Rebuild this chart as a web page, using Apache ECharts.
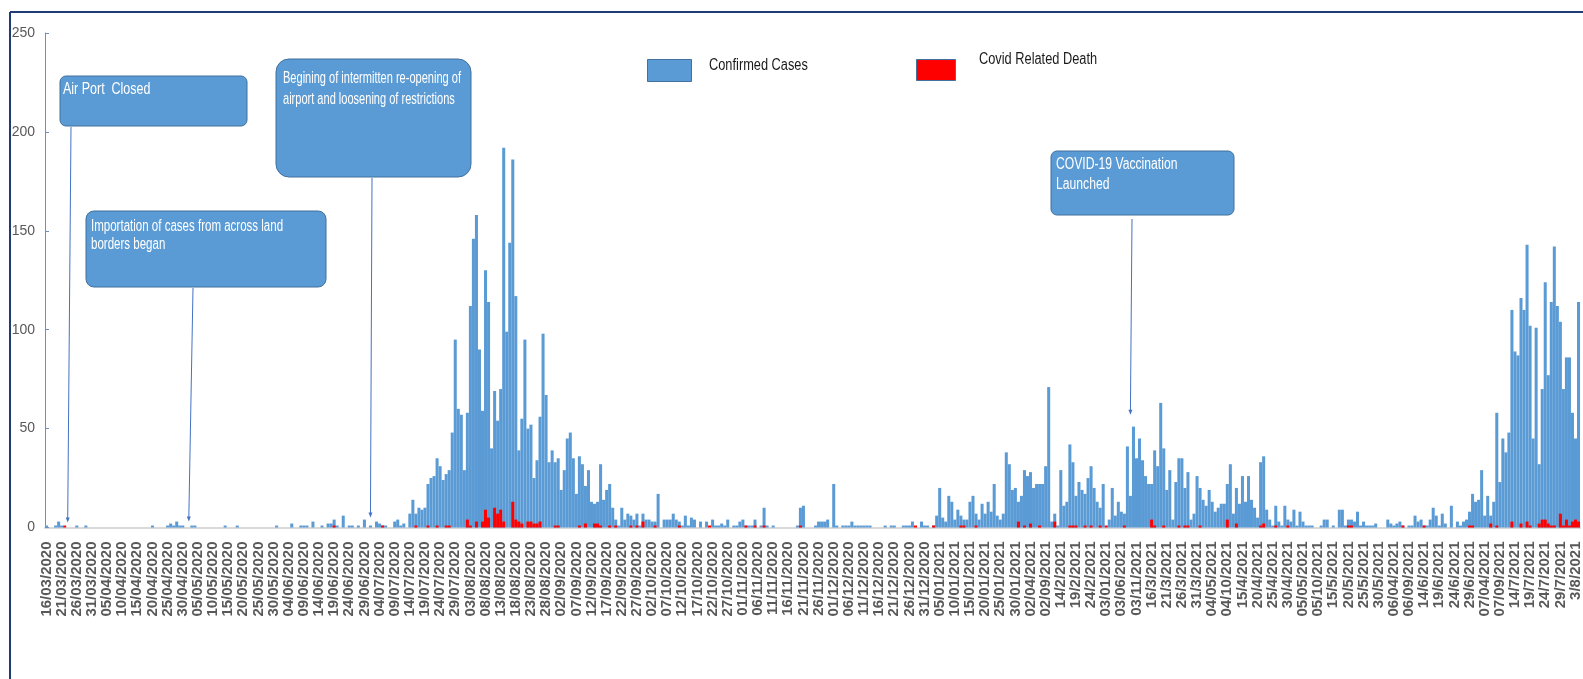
<!DOCTYPE html>
<html><head><meta charset="utf-8">
<script src="https://cdn.jsdelivr.net/npm/echarts@6/dist/echarts.min.js"></script>
<style>html,body{margin:0;padding:0;background:#fff;overflow:hidden}#c{width:1583px;height:679px}</style>
</head><body><div id="c"></div>
<script>
// x-axis tick labels (one every 5 days), as printed in the source
const tickLabels = ["16/03/2020","21/03/2020","26/03/2020","31/03/2020","05/04/2020","10/04/2020","15/04/2020","20/04/2020","25/04/2020","30/04/2020",
"05/05/2020","10/05/2020","15/05/2020","20/05/2020","25/05/2020","30/05/2020","04/06/2020","09/06/2020","14/06/2020","19/06/2020",
"24/06/2020","29/06/2020","04/07/2020","09/07/2020","14/07/2020","19/07/2020","24/07/2020","29/07/2020","03/08/2020","08/08/2020",
"13/08/2020","18/08/2020","23/08/2020","28/08/2020","02/09/2020","07/09/2020","12/09/2020","17/09/2020","22/09/2020","27/09/2020",
"02/10/2020","07/10/2020","12/10/2020","17/10/2020","22/10/2020","27/10/2020","01/11/2020","06/11/2020","11/11/2020","16/11/2020",
"21/11/2020","26/11/2020","01/12/2020","06/12/2020","11/12/2020","16/12/2020","21/12/2020","26/12/2020","31/12/2020","05/01/2021",
"10/01/2021","15/01/2021","20/01/2021","25/01/2021","30/01/2021","02/04/2021","02/09/2021","14/2/2021","19/2/2021","24/2/2021",
"03/01/2021","03/06/2021","03/11/2021","16/3/2021","21/3/2021","26/3/2021","31/3/2021","04/05/2021","04/10/2021","15/4/2021",
"20/4/2021","25/4/2021","30/4/2021","05/05/2021","05/10/2021","15/5/2021","20/5/2021","25/5/2021","30/5/2021","06/04/2021",
"06/09/2021","14/6/2021","19/6/2021","24/6/2021","29/6/2021","07/04/2021","07/09/2021","14/7/2021","19/7/2021","24/7/2021",
"29/7/2021","3/8/2021"];

// daily confirmed cases, from 16/03/2020 (10 values per row)
const confirmedCases = [
1,0,0,1,3,1,0,0,0,0,
1,0,0,1,0,0,0,0,0,0,
0,0,0,0,0,0,0,0,0,0,
0,0,0,0,0,1,0,0,0,0,
1,2,1,3,1,1,0,0,1,1,
0,0,0,0,0,0,0,0,0,1,
0,0,0,1,0,0,0,0,0,0,
0,0,0,0,0,0,1,0,0,0,
0,2,0,0,1,1,1,0,3,0,
0,1,0,2,2,4,1,0,6,0,
1,1,0,1,0,4,0,1,0,3,
2,1,1,0,0,3,4,1,2,0,
7,14,7,10,9,10,22,25,26,35,
31,24,27,29,48,95,60,57,29,58,
112,146,158,90,59,130,114,40,69,54,
70,192,99,144,186,117,39,55,95,50,
52,25,34,56,98,67,33,39,33,35,
19,29,45,48,35,17,36,32,21,29,
13,12,13,32,14,19,22,10,4,1,
10,4,7,6,4,7,1,7,4,4,
3,3,17,0,4,4,4,7,4,3,
1,6,1,5,4,0,3,0,3,0,
4,1,1,2,1,4,0,1,1,3,
4,1,1,1,4,0,1,10,1,0,
1,0,0,0,0,0,0,0,1,10,
11,0,0,0,1,3,3,3,4,0,
22,1,0,1,1,1,3,1,1,1,
1,1,1,0,0,0,0,1,0,1,
1,0,0,1,1,1,3,0,0,3,
1,1,0,1,6,20,5,3,16,13,
4,9,6,4,4,13,16,7,4,12,
7,13,8,22,6,4,7,38,32,19,
20,13,16,29,26,28,20,22,22,22,
31,71,3,7,1,29,11,13,42,33,
16,23,19,17,25,31,20,13,10,22,
0,4,20,6,13,8,7,41,16,51,
35,45,34,26,22,22,39,31,63,40,
19,29,4,23,35,35,20,28,4,7,
26,20,14,11,19,13,8,10,12,12,
22,32,7,20,12,26,13,26,14,10,
5,33,36,9,4,1,11,3,1,11,
4,3,9,1,8,3,1,1,1,0,
0,1,4,4,0,1,0,9,9,1,
4,4,3,8,1,3,1,1,1,2,
0,0,0,4,2,1,2,3,1,0,
1,1,6,3,4,1,1,4,10,6,
1,7,2,0,11,0,3,1,3,4,
8,17,13,14,29,6,16,6,13,58,
23,45,38,48,110,89,87,116,110,143,
102,45,101,32,70,124,77,114,142,112,
104,70,86,86,58,45,114];

// daily covid related deaths, same days
const covidDeaths = [
0,0,0,0,0,0,1,0,0,0,
0,0,0,0,0,0,0,0,0,0,
0,0,0,0,0,0,0,0,0,0,
0,0,0,0,0,0,0,0,0,0,
0,0,0,0,0,0,0,0,0,0,
0,0,0,0,0,0,0,0,0,0,
0,0,0,0,0,0,0,0,0,0,
0,0,0,0,0,0,0,0,0,0,
0,0,0,0,0,0,0,0,0,0,
0,0,0,0,0,1,0,0,0,0,
0,0,0,0,0,0,0,0,0,0,
0,1,0,0,0,0,0,0,0,0,
0,0,1,0,0,0,1,0,0,1,
0,0,1,1,0,0,0,0,0,4,
1,0,3,0,3,9,5,0,10,7,
9,3,0,0,13,4,3,2,0,3,
3,2,2,3,0,0,0,0,1,1,
0,0,0,0,0,0,1,0,2,0,
0,2,2,1,0,0,1,0,1,0,
0,0,0,1,0,1,0,3,0,0,
0,1,0,0,0,0,0,0,0,1,
0,0,0,0,0,0,0,0,0,1,
0,0,0,0,0,0,0,0,0,0,
0,1,0,0,1,0,0,1,0,0,
0,0,0,0,0,0,0,0,0,1,
0,0,0,0,0,0,0,0,0,0,
0,0,0,0,0,0,0,0,0,0,
0,0,0,0,0,0,0,0,0,0,
0,0,0,0,0,0,0,1,0,0,
0,0,0,1,0,0,0,0,0,0,
0,0,1,1,0,0,0,1,0,0,
0,0,0,0,0,0,0,0,0,0,
0,3,0,1,0,2,0,0,1,0,
0,0,0,3,0,0,0,0,1,1,
1,0,0,1,0,1,0,0,1,0,
1,0,0,0,0,0,1,0,0,0,
0,0,0,0,0,4,1,0,0,1,
0,0,0,0,1,0,1,1,0,0,
0,1,0,0,0,0,0,0,0,0,
4,0,0,2,0,0,0,0,0,0,
0,1,2,0,0,0,1,0,0,0,
1,0,0,0,0,0,0,0,0,0,
0,0,0,0,0,0,0,0,0,0,
1,1,0,0,0,0,0,0,0,0,
0,0,0,0,0,0,0,0,1,0,
0,0,0,0,0,1,0,0,0,0,
0,0,0,0,0,0,0,0,0,0,
1,1,0,0,0,0,0,2,0,1,
0,0,0,0,3,0,0,2,0,3,
1,0,0,2,4,4,2,1,1,0,
7,1,4,1,3,4,3];

const seriesNames = ['Confirmed Cases', 'Covid Related Death'];

// one category per day
const categories = confirmedCases.map(function (_, i) {
  const d = new Date(2020, 2, 16 + i);
  return d.getDate() + '/' + (d.getMonth() + 1) + '/' + d.getFullYear();
});

// callouts: text lines, day index + value the pointer ends on
const calloutTexts = [
  ['Air Port  Closed'],
  ['Importation of cases from across land', 'borders began'],
  ['Begining of intermitten re-opening of', 'airport and loosening of restrictions'],
  ['COVID-19 Vaccination', 'Launched']
];
const calloutDays = [7, 47, 107, 358];
const calloutValues = [2.5, 3, 5, 57];

const SANS = "'Liberation Sans',Arial,sans-serif";
const chart = echarts.init(document.getElementById('c'), null, {renderer: 'canvas'});

chart.setOption({
  animation: false,
  backgroundColor: '#fff',
  grid: {left: 45, right: -2, top: 33, bottom: 151.5, containLabel: false},
  legend: [
    {data: [seriesNames[0]], left: 642, top: 54, icon: 'rect', itemWidth: 44, itemHeight: 22,
     selectedMode: false, itemStyle: {borderColor: '#41719C', borderWidth: 1},
     formatter: function () { return ''; }, textStyle: {fontSize: 1}},
    {data: [seriesNames[1]], left: 911, top: 54, icon: 'rect', itemWidth: 39, itemHeight: 21,
     selectedMode: false, itemStyle: {borderColor: '#41719C', borderWidth: 1},
     formatter: function () { return ''; }, textStyle: {fontSize: 1}}
  ],
  xAxis: {
    type: 'category', data: categories, boundaryGap: true,
    axisLine: {lineStyle: {color: '#D9D9D9', width: 2}},
    axisTick: {show: false},
    axisLabel: {
      interval: 4, rotate: 90, margin: 14, fontSize: 15, fontWeight: 'bold',
      fontFamily: SANS, color: '#595959',
      formatter: function (v, i) { return tickLabels[i / 5] || ''; }
    }
  },
  yAxis: {
    type: 'value', min: 0, max: 250, interval: 50,
    axisLine: {show: true, lineStyle: {color: '#6F8DBE', width: 1}},
    axisTick: {show: true, inside: true, length: 4, lineStyle: {color: '#6F8DBE'}},
    splitLine: {show: false},
    axisLabel: {margin: 10, fontSize: 14, fontFamily: SANS, color: '#595959'}
  },
  series: [
    {name: seriesNames[0], type: 'bar', data: confirmedCases, barCategoryGap: '0%', barGap: '-100%',
     itemStyle: {color: '#5B9BD5'}},
    {name: seriesNames[1], type: 'bar', data: covidDeaths, barCategoryGap: '0%', barGap: '-100%',
     itemStyle: {color: '#FF0000'}}
  ]
});

// condensed text helper (source uses a narrow typeface)
function narrowText(t, x, y, size, sx, fill, z) {
  return {type: 'text', x: x, y: y, scaleX: sx, z: z,
    style: {text: t, x: 0, y: 0, fill: fill, font: size + 'px ' + SANS,
      verticalAlign: 'middle', textVerticalAlign: 'middle'}};
}

const boxes = [
  {x: 60, y: 76, w: 187, h: 50, r: 6, tx: 63, ty: [90], sx: 71, k: 0.78},
  {x: 86, y: 211, w: 240, h: 76, r: 8, tx: 91, ty: [227, 245], sx: 193, k: 0.72},
  {x: 276, y: 59, w: 195, h: 118, r: 13, tx: 283, ty: [79, 100], sx: 372, k: 0.69},
  {x: 1051, y: 151, w: 183, h: 64, r: 6, tx: 1056, ty: [165, 185], sx: 1132, k: 0.76}
];
const graphics = [];
boxes.forEach(function (b, k) {
  graphics.push({type: 'rect', shape: {x: b.x, y: b.y, width: b.w, height: b.h, r: b.r},
    style: {fill: '#5B9BD5', stroke: '#41719C', lineWidth: 1}, z: 10});
  calloutTexts[k].forEach(function (t, j) {
    graphics.push(narrowText(t, b.tx, b.ty[j], 16, b.k, '#fff', 11));
  });
  const tip = chart.convertToPixel({xAxisIndex: 0, yAxisIndex: 0}, [calloutDays[k], calloutValues[k]]);
  const sy = b.y + b.h + (k === 3 ? 4 : 1);
  graphics.push({type: 'line', z: 9, shape: {x1: b.sx, y1: sy, x2: tip[0], y2: tip[1] - 4},
    style: {stroke: '#4472C4', lineWidth: 1}});
  graphics.push({type: 'polygon', z: 9, shape: {points: [[tip[0] - 2, tip[1] - 5], [tip[0] + 2, tip[1] - 5], [tip[0], tip[1]]]},
    style: {fill: '#4472C4'}});
});
// legend labels
graphics.push(narrowText(seriesNames[0], 709, 66, 16, 0.8, '#1a1a1a', 11));
graphics.push(narrowText(seriesNames[1], 979, 60, 16, 0.8, '#1a1a1a', 11));
// outer chart frame (cropped chart area border)
graphics.push({type: 'line', z: 12, shape: {x1: 10, y1: 12, x2: 1590, y2: 12}, style: {stroke: '#1F3C77', lineWidth: 2}});
graphics.push({type: 'line', z: 12, shape: {x1: 10, y1: 12, x2: 10, y2: 690}, style: {stroke: '#1F3C77', lineWidth: 2}});
chart.setOption({graphic: graphics});
</script></body></html>
